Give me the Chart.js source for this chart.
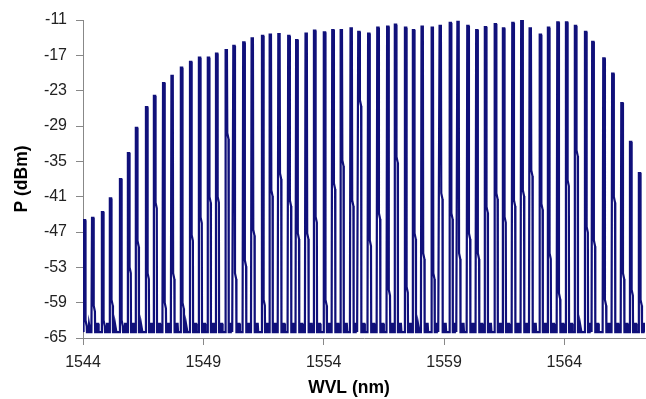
<!DOCTYPE html>
<html>
<head>
<meta charset="utf-8">
<script src="https://cdn.jsdelivr.net/npm/chart.js@4"></script>
<style>
  html, body { margin: 0; padding: 0; background: #fff; }
  #wrap { width: 646px; height: 399px; }
</style>
</head>
<body>
<div id="wrap"><canvas id="spectrum" width="646" height="399"></canvas></div>
<script>
// channel peaks (nm, dBm)
const peakWvl = [
  1544.08, 1544.42, 1544.83, 1545.16, 1545.58, 1545.91, 1546.24, 1546.66, 1546.99, 1547.37,
  1547.72, 1548.11, 1548.49, 1548.86, 1549.23, 1549.57, 1549.97, 1550.29, 1550.70, 1551.05,
  1551.48, 1551.80, 1552.16, 1552.57, 1552.90, 1553.29, 1553.64, 1554.05, 1554.40, 1554.75,
  1555.16, 1555.48, 1555.89, 1556.27, 1556.68, 1557.00, 1557.42, 1557.75, 1558.11, 1558.53,
  1558.86, 1559.28, 1559.60, 1560.01, 1560.38, 1560.74, 1561.15, 1561.49, 1561.88, 1562.25,
  1562.60, 1563.02, 1563.36, 1563.75, 1564.11, 1564.48, 1564.90, 1565.20, 1565.66, 1566.03,
  1566.41, 1566.77, 1567.14
]
const peakDbm = [
  -45.0, -44.6, -43.6, -41.3, -38.0, -33.6, -29.3, -25.8, -23.9, -21.7,
  -20.5, -19.1, -18.1, -17.4, -17.4, -16.7, -16.1, -15.4, -14.8, -14.1,
  -13.7, -13.5, -13.4, -13.7, -14.4, -13.3, -12.8, -13.1, -12.7, -12.7,
  -12.4, -13.0, -13.3, -12.3, -12.1, -11.8, -12.3, -12.7, -12.1, -12.3,
  -12.0, -11.5, -11.3, -12.0, -12.7, -12.2, -11.7, -12.4, -11.5, -11.0,
  -12.4, -13.5, -12.3, -11.4, -11.4, -12.0, -13.0, -14.7, -17.5, -20.1,
  -25.1, -31.7, -37.0
]
// level where the falling edge of each peak bends
const kneeDbm = [
  -62.0, -59.5, -62.0, -58.5, -62.0, -53.0, -48.5, -54.0, -42.0, -59.0,
  -54.0, -59.0, -47.5, -44.5, -41.0, -41.0, -30.2, -54.0, -51.8, -46.6,
  -58.5, -39.9, -37.0, -41.6, -47.2, -47.2, -44.4, -58.5, -38.7, -34.8,
  -41.6, -24.6, -48.4, -43.8, -56.8, -34.2, -56.3, -47.2, -50.6, -54.0,
  -40.4, -43.8, -50.6, -47.2, -50.6, -42.7, -40.4, -44.4, -41.6, -39.9,
  -36.5, -42.2, -50.6, -57.4, -38.2, -33.1, -46.1, -48.4, -58.5, -41.0,
  -54.0, -56.8, -58.5
]
const floorDbm = -64.0
const bumpDbm = -62.6

const xTicks = [1544, 1549, 1554, 1559, 1564]
const yTicks = [-65, -59, -53, -47, -41, -35, -29, -23, -17, -11]

// trace shape around each peak (nm offsets, instrument resolution)
const edge = { rise: 0.07, topL: 0.045, topR: 0.01, knee: 0.025, step: 0.075, foot: 0.085,
               bumpA: 0.15, bumpB: 0.17, bumpC: 0.21, bumpD: 0.23 }

let trace = [{x: 1544.0, y: -62.5}]
for (let i = 0; i < peakWvl.length; i++) {
  let w = peakWvl[i]
  trace.push({x: w - edge.rise, y: floorDbm})
  trace.push({x: w - edge.topL, y: peakDbm[i]})
  trace.push({x: w + edge.topR, y: peakDbm[i]})
  trace.push({x: w + edge.knee, y: kneeDbm[i]})
  trace.push({x: w + edge.step, y: kneeDbm[i] - 1.0})
  trace.push({x: w + edge.foot, y: floorDbm})
  trace.push({x: w + edge.bumpA, y: floorDbm})
  trace.push({x: w + edge.bumpB, y: bumpDbm})
  trace.push({x: w + edge.bumpC, y: bumpDbm})
  trace.push({x: w + edge.bumpD, y: floorDbm})
}
trace.push({x: 1567.35, y: -63.2})

const titlePlugin = {
  id: 'axisTitles',
  afterDraw: function (chart){
    const ctx = chart.ctx
    ctx.save()
    ctx.fillStyle = '#000'
    ctx.font = 'bold 17.5px "Liberation Sans", Arial, sans-serif'
    ctx.textAlign = 'center'
    ctx.textBaseline = 'middle'
    ctx.fillText('WVL (nm)', 349, 388)
    ctx.translate(22, 179)
    ctx.rotate(-Math.PI / 2)
    ctx.fillText('P (dBm)', 0, 0)
    ctx.restore()
  }
}

const tickFont = { family: '"Liberation Sans", Arial, sans-serif', size: 16 }

new Chart(document.getElementById('spectrum').getContext('2d'), {
  type: 'scatter',
  data: {
    datasets: [{
      data: trace,
      showLine: true,
      borderColor: '#10107a',
      borderWidth: 2.2,
      pointRadius: 0,
      tension: 0,
      fill: false
    }]
  },
  options: {
    responsive: false,
    devicePixelRatio: 1,
    animation: false,
    layout: { padding: { top: 20, right: 1, left: 0, bottom: 0 } },
    plugins: { legend: { display: false }, tooltip: { enabled: false } },
    scales: {
      x: {
        type: 'linear',
        min: 1544,
        max: 1567.35,
        afterBuildTicks: function (scale){ scale.ticks = xTicks.map(v => ({value: v})) },
        afterFit: function (scale){ scale.height = 61 },
        grid: { display: true, drawOnChartArea: false, drawTicks: true, tickLength: 7, color: '#888' },
        border: { display: true, color: '#888', width: 1 },
        ticks: { font: tickFont, color: '#222', padding: 8, maxRotation: 0, autoSkip: false, callback: v => String(v) }
      },
      y: {
        type: 'linear',
        min: -65,
        max: -11,
        afterBuildTicks: function (scale){ scale.ticks = yTicks.map(v => ({value: v})) },
        afterFit: function (scale){ scale.width = 83 },
        grid: { display: true, drawOnChartArea: false, drawTicks: true, tickLength: 7, color: '#888' },
        border: { display: true, color: '#888', width: 1 },
        ticks: { font: tickFont, color: '#222', padding: 9, autoSkip: false, callback: v => String(v) }
      }
    }
  },
  plugins: [titlePlugin]
})
</script>
</body>
</html>
